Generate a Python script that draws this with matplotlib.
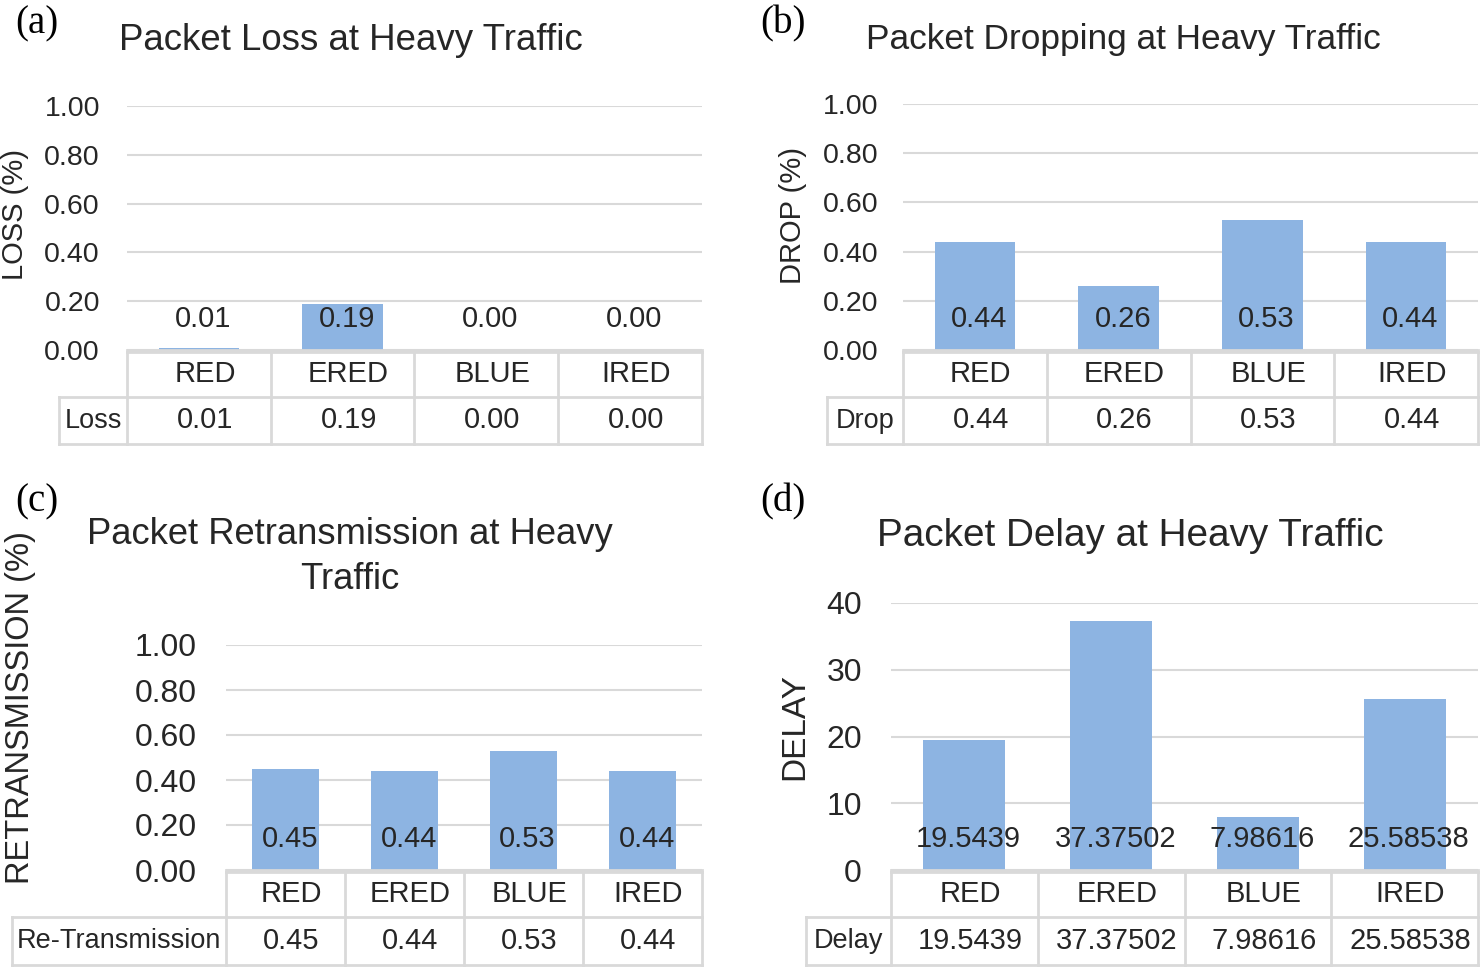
import matplotlib
matplotlib.use("Agg")
from matplotlib import pyplot as plt
from matplotlib.lines import Line2D

plt.rcParams['font.family'] = ['Liberation Sans', 'DejaVu Sans']

W, H = 1481, 968
BAR = '#8db4e2'
GRID = '#d9d9d9'
TXT = '#262626'

categories = ['RED', 'ERED', 'BLUE', 'IRED']

loss_vals = [0.01, 0.19, 0.00, 0.00]
loss_text = ['0.01', '0.19', '0.00', '0.00']

drop_vals = [0.44, 0.26, 0.53, 0.44]
drop_text = ['0.44', '0.26', '0.53', '0.44']

retx_vals = [0.45, 0.44, 0.53, 0.44]
retx_text = ['0.45', '0.44', '0.53', '0.44']

delay_vals = [19.5439, 37.37502, 7.98616, 25.58538]
delay_text = ['19.5439', '37.37502', '7.98616', '25.58538']

pct_ticks = [0, 0.2, 0.4, 0.6, 0.8, 1.0]
delay_ticks = [0, 10, 20, 30, 40]


def fx(x):
    return x / W


def fy(y):
    return 1 - y / H


def fline(fig, xs, ys):
    fig.add_artist(Line2D([fx(x) for x in xs], [fy(y) for y in ys],
                          transform=fig.transFigure, color=GRID, lw=2))


def panel(fig, px, ylim, ticks, fmt, vals, texts, row_label, lab_x0, rows,
          title, title_xy, title_fs, ylabel, ylab_xy, ylab_fs, tag, tag_xy,
          pad, tick_fs):
    x0, y0, x1, y1 = px
    ax = fig.add_axes([fx(x0), fy(y1), (x1 - x0) / W, (y1 - y0) / H])
    ax.bar(range(4), vals, width=0.56, color=BAR, zorder=2)
    ax.set_xlim(-0.5, 3.5)
    ax.set_ylim(*ylim)
    ax.set_yticks(ticks)
    ax.set_yticklabels([fmt.format(t) for t in ticks], fontsize=tick_fs, color=TXT)
    ax.tick_params(axis='y', length=0, pad=pad)
    ax.set_xticks([])
    ax.grid(axis='y', color=GRID, lw=1.5, zorder=0)
    for s in ['top', 'right', 'left']:
        ax.spines[s].set_visible(False)
    ax.spines['bottom'].set_color(GRID)
    ax.spines['bottom'].set_linewidth(2)
    for i, t in enumerate(texts):
        ax.annotate(t, (i, 0), xytext=(3, 22), textcoords='offset points',
                    ha='center', va='center', fontsize=21, color=TXT, zorder=3)

    # data table under the plot
    r0, r1, r2 = rows
    cw = (x1 - x0) / 4
    fline(fig, [x0, x1], [r0, r0])
    fline(fig, [lab_x0, x1], [r1, r1])
    fline(fig, [lab_x0, x1], [r2, r2])
    fline(fig, [lab_x0, lab_x0], [r1, r2])
    for i in range(5):
        fline(fig, [x0 + i * cw, x0 + i * cw], [r0, r2])
    for i, c in enumerate(categories):
        xc = x0 + (i + 0.5) * cw + 6
        fig.text(fx(xc), fy((r0 + r1) / 2), c, ha='center', va='center',
                 fontsize=21, color=TXT)
        fig.text(fx(xc), fy((r1 + r2) / 2), texts[i], ha='center', va='center',
                 fontsize=21, color=TXT)
    fig.text(fx((lab_x0 + x0) / 2), fy((r1 + r2) / 2), row_label,
             ha='center', va='center', fontsize=19.5, color=TXT)

    fig.text(fx(title_xy[0]), fy(title_xy[1]), title, ha='center', va='center',
             fontsize=title_fs, color=TXT, linespacing=1.35)
    fig.text(fx(ylab_xy[0]), fy(ylab_xy[1]), ylabel, ha='center', va='center',
             rotation=90, fontsize=ylab_fs, color=TXT)
    fig.text(fx(tag_xy[0]), fy(tag_xy[1]), tag, ha='center', va='center',
             fontsize=28, family='Liberation Serif', color='black')
    return ax


fig = plt.figure(figsize=(W / 100, H / 100), dpi=100)

panel(fig, (127, 106, 702, 350), (0, 1), pct_ticks, '{:.2f}', loss_vals, loss_text,
      'Loss', 59, (352, 397, 444), 'Packet Loss at Heavy Traffic', (351, 40), 26.4,
      'LOSS (%)', (15, 215), 21, '(a)', (37, 24), 19.5, 20.5)

panel(fig, (903, 104, 1478, 350), (0, 1), pct_ticks, '{:.2f}', drop_vals, drop_text,
      'Drop', 827, (352, 397, 444), 'Packet Dropping at Heavy Traffic', (1123, 40), 25.4,
      'DROP (%)', (793, 215), 21, '(b)', (783, 24), 18, 20.5)

panel(fig, (226, 645, 702, 870), (0, 1), pct_ticks, '{:.2f}', retx_vals, retx_text,
      'Re-Transmission', 12, (872, 917, 965),
      'Packet Retransmission at Heavy\nTraffic', (350, 557), 26.2,
      'RETRANSMISSION (%)', (21, 708), 23.5, '(c)', (37, 502), 21, 23)

panel(fig, (891, 603, 1478, 870), (0, 40), delay_ticks, '{:.0f}', delay_vals, delay_text,
      'Delay', 806, (872, 917, 965), 'Packet Delay at Heavy Traffic', (1130, 536), 27.9,
      'DELAY', (795, 727), 24, '(d)', (783, 502), 21, 23)

fig.savefig('out.png', dpi=100)
